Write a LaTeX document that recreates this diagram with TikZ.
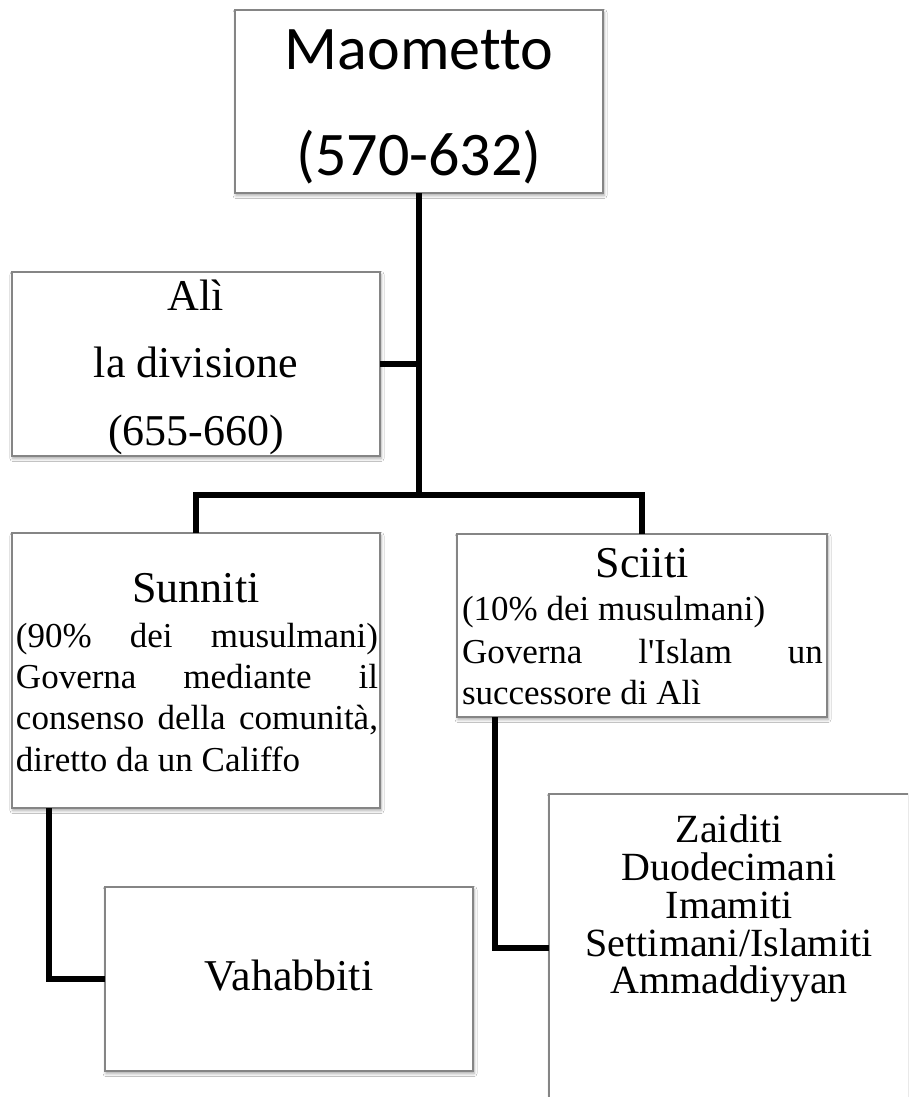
\documentclass[tikz,border=0pt]{standalone}
\usepackage{fontspec}
\setmainfont{Liberation Serif}[Ligatures=TeXOff]
\newfontfamily\calibrifont{Carlito}[Ligatures={NoCommon,TeXOff}]
\usetikzlibrary{shadows.blur}

\tikzset{
  box/.style={draw=black!48, line width=1.5pt, fill=white, inner sep=0pt, outer sep=0pt,
    anchor=north west,
    blur shadow={shadow xshift=1pt, shadow yshift=-2.5pt, shadow blur radius=3pt, shadow opacity=35}},
  link/.style={line width=6pt, black},
  txt/.style={inner sep=0pt, outer sep=0pt, anchor=base, text=black},
  lefttxt/.style={txt, anchor=base west},
  title/.style={font=\fontsize{44}{50}\selectfont},
  body/.style={font=\fontsize{35}{41}\selectfont},
  list/.style={font=\fontsize{40}{38}\selectfont}
}

\begin{document}
\begin{tikzpicture}[x=1pt, y=-1pt]
\useasboundingbox (0,0) rectangle (908,1097);
\clip (0,0) rectangle (908,1097);
\fill[white] (0,0) rectangle (908,1097);

% boxes
\node[box, minimum width=368pt, minimum height=183pt] (maometto) at (235,10) {};
\node[box, minimum width=368pt, minimum height=184pt] (ali) at (12,272) {};
\node[box, minimum width=368pt, minimum height=275pt] (sunniti) at (12,533) {};
\node[box, minimum width=370pt, minimum height=183pt] (sciiti) at (457,534) {};
\node[box, minimum width=368pt, minimum height=184pt] (vahabbiti) at (105,887) {};
\node[box, minimum width=360pt, minimum height=308pt] (zaiditi) at (549,794) {};

% connectors
\coordinate (split) at (419,495);
\draw[link] (maometto.south) -- (split);
\draw[link] (ali.east) -- (ali.east -| split);
\draw[link] (sunniti.north) |- (split) -| (sciiti.north);
\draw[link] ([xshift=37pt]sunniti.south west) |- (vahabbiti.west);
\draw[link] ([xshift=38pt]sciiti.south west) |- (zaiditi.west);

% texts
\node[txt, font=\calibrifont\fontsize{62}{70}\selectfont] (m1) at (419,70) {Maometto};
\node[txt, font=\calibrifont\fontsize{62}{70}\selectfont] (m2) at (419,175) {(570-632)};

\node[txt, title] (a1) at (196,310) {Alì};
\node[txt, title] (a2) at (196,377) {la divisione};
\node[txt, title] (a3) at (196,445) {(655-660)};

\node[txt, title] (s0) at (196,602) {Sunniti};
\node[lefttxt, body] (s1) at (16,647) {\makebox[362pt][s]{(90\% dei musulmani)}};
\node[lefttxt, body] (s2) at (16,688) {\makebox[362pt][s]{Governa mediante il}};
\node[lefttxt, body] (s3) at (16,729) {\makebox[362pt][s]{consenso della comunità,}};
\node[lefttxt, body] (s4) at (16,771) {diretto da un Califfo};

\node[txt, title] (c0) at (642,577) {Sciiti};
\node[lefttxt, body] (c1) at (462,620) {(10\% dei musulmani)};
\node[lefttxt, body] (c2) at (462,663) {\makebox[361pt][s]{Governa l'Islam un}};
\node[lefttxt, body] (c3) at (462,704) {successore di Alì};

\node[txt, title] (v1) at (289,990) {Vahabbiti};

\node[txt, list] (z1) at (729,842) {Zaiditi};
\node[txt, list] (z2) at (729,880) {Duodecimani};
\node[txt, list] (z3) at (729,918) {Imamiti};
\node[txt, list] (z4) at (729,956) {Settimani/Islamiti};
\node[txt, list] (z5) at (729,993) {Ammaddiyyan};
\end{tikzpicture}
\end{document}
